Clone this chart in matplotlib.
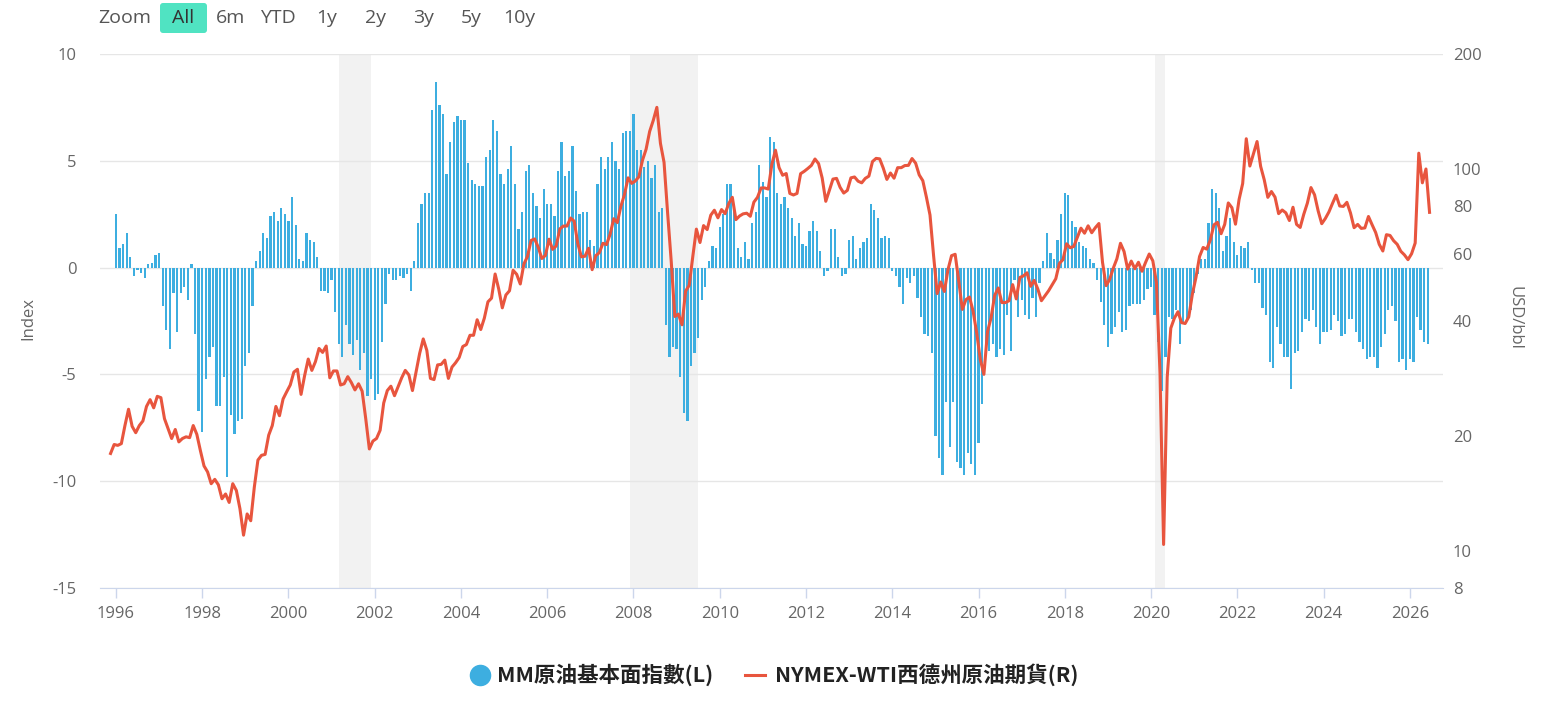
import numpy as np
import matplotlib
matplotlib.use("Agg")
import matplotlib.pyplot as plt
from matplotlib.lines import Line2D
from matplotlib.patches import FancyBboxPatch

plt.rcParams['font.family'] = ['Open Sans', 'Noto Sans CJK TC', 'DejaVu Sans']

# ---------------------------------------------------------------------------
# MM crude oil fundamentals index (left axis), monthly, first value = Dec 1995
# ---------------------------------------------------------------------------
mm_start = (1995, 12)
mm_1990s = [2.5,
            0.9, 1.1, 1.6, 0.5, -0.4, -0.1, -0.25, -0.5, 0.15, 0.2, 0.6, 0.7,        # 1996
            -1.8, -2.9, -3.8, -1.2, -3.0, -1.2, -0.9, -1.5, 0.15, -3.1, -6.7, -7.7,  # 1997
            -5.2, -4.2, -3.7, -6.5, -6.5, -5.1, -9.8, -6.9, -7.8, -7.2, -7.1, -4.6,  # 1998
            -4.0, -1.8, 0.3, 0.8, 1.6, 1.4, 2.4, 2.6, 2.2, 2.8, 2.5, 2.2]            # 1999
mm_2000s = [3.3, 2.0, 0.4, 0.3, 1.6, 1.3, 1.2, 0.5, -1.1, -1.1, -1.2, -0.6,          # 2000
            -2.1, -3.6, -4.2, -2.7, -3.6, -4.1, -3.4, -4.8, -4.0, -6.0, -5.2, -6.2,  # 2001
            -5.9, -3.5, -1.7, -0.3, -0.6, -0.6, -0.4, -0.5, -0.3, -1.1, 0.3, 2.1,    # 2002
            3.0, 3.5, 3.5, 7.4, 8.7, 7.6, 7.2, 4.4, 5.9, 6.8, 7.1, 6.9,              # 2003
            6.9, 4.9, 4.1, 3.9, 3.8, 3.8, 5.2, 5.5, 6.9, 6.4, 4.4, 3.9,              # 2004
            4.6, 5.7, 3.9, 1.8, 2.6, 4.5, 4.8, 3.5, 2.9, 2.3, 3.7, 3.0,              # 2005
            3.0, 2.4, 4.5, 5.9, 4.3, 4.5, 5.7, 3.6, 2.5, 2.6, 2.6, 1.3,              # 2006
            1.0, 3.9, 5.2, 4.6, 5.2, 5.9, 5.0, 4.6, 6.3, 6.4, 6.4, 7.2,              # 2007
            5.5, 5.5, 4.7, 5.0, 4.2, 4.8, 2.6, 2.8, -2.7, -4.2, -3.7, -3.8,          # 2008
            -5.1, -6.8, -7.2, -4.6, -4.0, -3.3, -1.5, -0.9, 0.3, 1.0, 0.9, 1.9]      # 2009
mm_2010s = [2.5, 3.9, 3.9, 3.0, 0.9, 0.5, 1.2, 0.4, 2.1, 2.6, 4.8, 4.0,              # 2010
            3.3, 6.1, 5.9, 3.5, 3.0, 3.3, 2.8, 2.3, 1.5, 2.1, 1.1, 1.0,              # 2011
            1.7, 2.2, 1.7, 0.8, -0.4, -0.15, 1.8, 1.8, 0.5, -0.4, -0.3, 1.3,         # 2012
            1.5, 0.4, 0.9, 1.2, 1.4, 3.0, 2.7, 2.3, 1.4, 1.5, 1.4, -0.15,            # 2013
            -0.4, -0.9, -1.7, -0.5, -0.7, -0.4, -1.4, -2.3, -3.1, -3.2, -4.0, -7.9,  # 2014
            -8.9, -9.7, -6.3, -8.4, -6.3, -9.1, -9.4, -9.7, -8.7, -9.2, -9.7, -8.2,  # 2015
            -6.4, -4.1, -3.9, -3.6, -4.2, -3.8, -4.1, -2.2, -3.9, -0.6, -2.3, -1.5,  # 2016
            -2.2, -2.4, -1.4, -2.3, -0.7, 0.3, 1.6, 0.7, 0.4, 1.3, 2.5, 3.5,         # 2017
            3.4, 2.2, 1.9, 1.2, 1.0, 0.9, 0.4, 0.2, -0.6, -1.6, -2.7, -3.7,          # 2018
            -3.1, -2.8, -2.1, -3.0, -2.9, -1.8, -1.7, -1.7, -1.7, -1.5, -1.0, -0.9]  # 2019
mm_2020s = [-2.2, -3.5, -5.8, -4.2, -2.3, -2.4, -2.0, -3.6, -2.6, -2.5, -2.0, -1.2,  # 2020
            -0.3, 0.4, 0.4, 2.1, 3.7, 3.5, 2.8, 0.8, 1.5, 2.3, 1.2, 0.6,             # 2021
            1.0, 0.9, 1.2, -0.1, -0.7, -0.7, -1.9, -2.2, -4.4, -4.7, -2.8, -3.6,     # 2022
            -4.2, -4.2, -5.7, -4.0, -3.9, -3.0, -2.4, -2.5, -2.0, -2.8, -3.6, -3.0,  # 2023
            -3.0, -2.9, -2.2, -2.5, -3.2, -3.1, -2.4, -2.4, -3.0, -3.5, -3.8, -4.3,  # 2024
            -4.2, -4.2, -4.7, -3.7, -3.1, -2.0, -1.8, -2.5, -4.4, -4.3, -4.8, -4.3,  # 2025
            -4.4, -2.3, -2.9, -3.5, -3.6]                                            # 2026

# ---------------------------------------------------------------------------
# NYMEX WTI crude (right axis, USD/bbl), monthly, first value = Nov 1995
# ---------------------------------------------------------------------------
wti_start = (1995, 11)
wti_1990s = [18.0, 19.0,
             18.9, 19.1, 21.3, 23.5, 21.2, 20.4, 21.3, 21.9, 23.9, 24.9, 23.7, 25.4,
             25.2, 22.2, 20.9, 19.7, 20.8, 19.3, 19.7, 19.9, 19.8, 21.3, 20.2, 18.3,
             16.7, 16.1, 15.0, 15.4, 14.9, 13.7, 14.1, 13.4, 15.0, 14.4, 12.9, 11.0,
             12.5, 12.0, 14.7, 17.3, 17.8, 17.9, 20.1, 21.3, 23.9, 22.6, 25.0, 26.1]
wti_2000s = [27.2, 29.4, 29.9, 25.7, 28.8, 31.8, 29.7, 31.3, 33.9, 33.1, 34.4, 28.4,
             29.6, 29.6, 27.2, 27.4, 28.6, 27.6, 26.4, 27.4, 26.2, 22.2, 18.5, 19.4,
             19.7, 20.7, 24.4, 26.3, 27.0, 25.5, 26.9, 28.4, 29.7, 28.9, 26.3, 29.4,
             32.9, 35.9, 33.5, 28.3, 28.1, 30.7, 30.8, 31.6, 28.3, 30.3, 31.1, 32.1,
             34.3, 34.7, 36.7, 36.7, 40.3, 38.0, 40.7, 44.9, 45.9, 53.1, 48.5, 43.3,
             46.8, 48.0, 54.3, 53.0, 50.0, 56.4, 59.0, 65.0, 65.6, 62.4, 58.3, 59.4,
             65.5, 61.6, 62.9, 69.7, 70.9, 70.9, 74.4, 73.0, 63.8, 58.9, 59.1, 62.0,
             54.5, 59.3, 60.4, 63.9, 63.4, 67.5, 74.1, 72.4, 79.9, 85.8, 94.8, 91.7,
             93.0, 95.4, 105.4, 112.6, 125.4, 134.0, 145.0, 116.7, 104.1, 76.6, 57.3, 41.1,
             41.7, 39.1, 47.9, 49.6, 59.0, 69.6, 64.2, 71.1, 69.4, 75.7, 78.0, 74.5]
wti_2010s = [78.3, 76.4, 81.2, 84.3, 73.7, 75.3, 76.3, 76.6, 75.2, 81.9, 84.3, 89.2,
             89.2, 88.6, 102.9, 112.0, 100.9, 96.3, 97.3, 86.3, 85.5, 86.3, 97.2, 98.6,
             100.3, 102.2, 106.2, 103.3, 94.7, 82.3, 87.9, 94.1, 94.5, 89.5, 86.5, 87.9,
             94.8, 95.3, 92.9, 92.0, 94.5, 95.8, 104.6, 106.6, 106.3, 100.5, 93.9, 97.6,
             94.6, 100.8, 100.8, 102.1, 102.2, 106.5, 103.6, 96.5, 93.2, 84.4, 75.8, 59.3,
             47.2, 50.6, 47.8, 54.5, 59.3, 59.8, 50.9, 42.9, 45.5, 46.2, 42.4, 37.2,
             31.7, 29.0, 37.5, 40.8, 46.7, 48.8, 44.7, 44.7, 45.2, 49.8, 45.7, 52.0,
             52.5, 53.5, 49.3, 51.1, 48.5, 45.2, 46.6, 48.0, 49.8, 51.6, 56.6, 57.9,
             63.7, 62.2, 62.7, 66.3, 70.0, 67.9, 71.0, 68.1, 70.2, 72.0, 57.0, 49.5,
             51.4, 55.0, 58.2, 63.9, 60.8, 54.7, 57.4, 54.8, 57.0, 54.0, 57.0, 59.9]
wti_2020s = [57.5, 50.5, 29.2, 10.4, 28.5, 38.3, 40.7, 42.3, 39.6, 39.4, 41.0, 47.0,
             52.0, 59.0, 62.3, 61.7, 65.2, 71.4, 72.5, 67.7, 71.6, 81.5, 79.2, 71.7,
             83.2, 91.6, 120.0, 101.8, 109.6, 118.0, 101.6, 93.7, 84.3, 87.3, 84.4, 76.4,
             78.1, 76.8, 73.3, 79.4, 71.6, 70.3, 76.1, 81.4, 89.4, 85.6, 77.7, 71.9,
             74.2, 77.2, 81.3, 85.4, 80.0, 79.8, 81.8, 76.7, 70.2, 71.6, 69.9, 70.1,
             75.1, 71.5, 68.2, 63.5, 61.0, 67.3, 67.0, 64.9, 63.5, 60.9, 59.6, 57.9,
             60.0, 64.0, 110.0, 92.0, 100.0, 77.0]

# recession shading (NBER), start month / end month
rec_start = ["2001-03", "2007-12", "2020-02"]
rec_end = ["2001-11", "2009-06", "2020-04"]

year_ticks = list(range(1996, 2027, 2))
right_ticks = [8, 10, 20, 40, 60, 80, 100, 200]
left_ticks = [-15, -10, -5, 0, 5, 10]

zoom_buttons = ["6m", "YTD", "1y", "2y", "3y", "5y", "10y"]
legend_mm = "MM原油基本面指數(L)"
legend_wti = "NYMEX-WTI西德州原油期貨(R)"

BLUE = "#3daee0"
RED = "#e8553e"
GREY_TXT = "#666666"


def month_years(start, n, offset):
    y, m = start
    return y + (m - 1 + np.arange(n) + offset) / 12.0


def ym(s, end=False):
    y, m = s.split("-")
    return int(y) + (int(m) - (0 if end else 1)) / 12.0


mm = np.array(mm_1990s + mm_2000s + mm_2010s + mm_2020s)
wti = np.array(wti_1990s + wti_2000s + wti_2010s + wti_2020s)
mm_x = month_years(mm_start, len(mm), 1.0)     # bar drawn at month end
wti_x = month_years(wti_start, len(wti), 0.5)  # mid month

W, H = 1548, 704
fig = plt.figure(figsize=(W / 100, H / 100), dpi=100)
ax = fig.add_axes([100 / W, 1 - 588 / H, (1443 - 100) / W, (588 - 54) / H])

for s, e in zip(rec_start, rec_end):
    ax.axvspan(ym(s), ym(e, end=True), color="#f2f2f2", lw=0, zorder=0)

ax.bar(mm_x, mm, width=0.052, color=BLUE, lw=0, zorder=3)

ax.set_xlim(1995.63, 2026.77)
ax.set_ylim(-15, 10)
ax.set_yticks(left_ticks)
ax.set_yticklabels([str(v) for v in left_ticks])
ax.set_xticks(year_ticks)
ax.set_xticklabels([str(v) for v in year_ticks])
ax.set_axisbelow(True)
ax.grid(axis="y", color="#e6e6e6", lw=1)
for sp in ["top", "left", "right"]:
    ax.spines[sp].set_visible(False)
ax.spines["bottom"].set_color("#ccd6eb")
ax.tick_params(axis="y", length=0, pad=17, labelsize=12, labelcolor=GREY_TXT)
ax.tick_params(axis="x", length=7, width=1, color="#ccd6eb", pad=6,
               labelsize=12, labelcolor=GREY_TXT)

ax2 = ax.twinx()
ax2.plot(wti_x, wti, color=RED, lw=2.2, zorder=5, solid_joinstyle="round")
ax2.set_yscale("log")
ax2.set_ylim(8, 200)
ax2.set_yticks(right_ticks)
ax2.set_yticklabels([str(v) for v in right_ticks])
ax2.yaxis.set_minor_locator(matplotlib.ticker.NullLocator())
for sp in ax2.spines.values():
    sp.set_visible(False)
ax2.tick_params(axis="y", length=0, pad=7, labelsize=12, labelcolor=GREY_TXT)

# axis titles
fig.text(28 / W, 1 - 318 / H, "Index", rotation=90, ha="center", va="center",
         fontsize=12, color=GREY_TXT)
fig.text(1515 / W, 1 - 318 / H, "USD/bbl", rotation=270, ha="center", va="center",
         fontsize=12, color=GREY_TXT)

# range selector bar at the top
fig.text(98 / W, 1 - 18 / H, "Zoom", ha="left", va="center", fontsize=14, color="#555555")
btn = FancyBboxPatch((1.60, (H - 33) / 100), 0.47, 0.30,
                     boxstyle="round,pad=0,rounding_size=0.03",
                     transform=fig.dpi_scale_trans, facecolor="#50e3c2",
                     edgecolor="none")
fig.add_artist(btn)
fig.text(183 / W, 1 - 18 / H, "All", ha="center", va="center", fontsize=14, color="#333333")
for lab, px in zip(zoom_buttons, [231, 278, 327, 375, 423, 471, 519]):
    fig.text(px / W, 1 - 18 / H, lab, ha="center", va="center", fontsize=14, color="#555555")

# legend
ly = 1 - 675 / H
fig.add_artist(Line2D([480 / W], [ly], marker="o", markersize=14.5, color=BLUE,
                      transform=fig.transFigure))
fig.text(497 / W, ly, legend_mm, ha="left", va="center", fontsize=15.5, fontweight="bold",
         color="#222222", family=["Noto Sans CJK TC", "DejaVu Sans"])
fig.add_artist(Line2D([745 / W, 765 / W], [ly, ly], lw=2.2, color=RED,
                      transform=fig.transFigure))
fig.text(775 / W, ly, legend_wti, ha="left", va="center", fontsize=15.5, fontweight="bold",
         color="#222222", family=["Noto Sans CJK TC", "DejaVu Sans"])

fig.savefig("out.png", dpi=100)
